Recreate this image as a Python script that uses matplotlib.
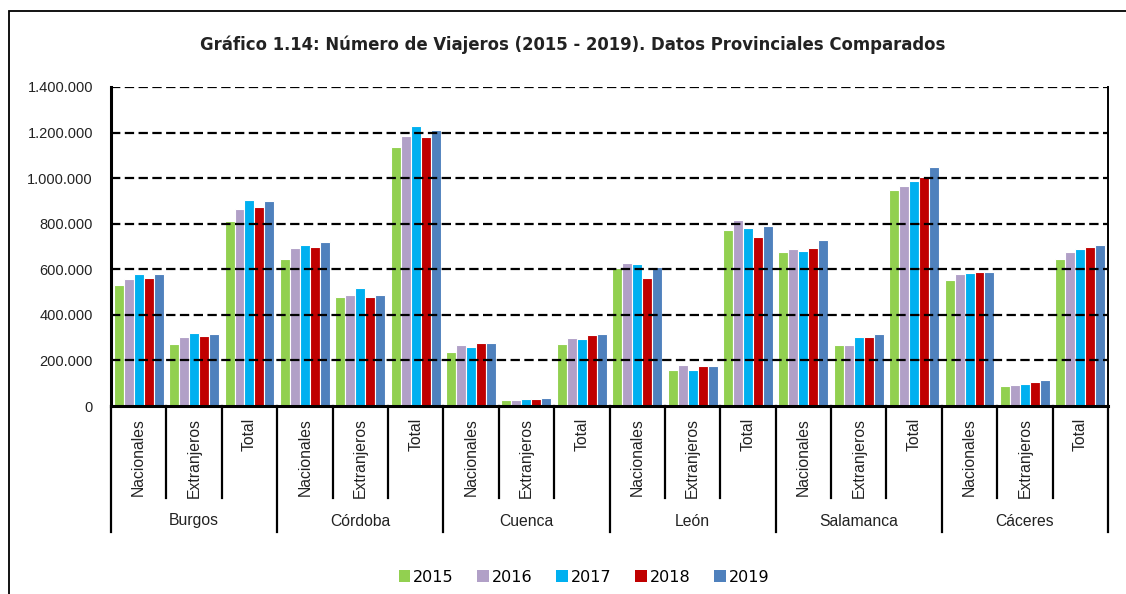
import numpy as np
import matplotlib
matplotlib.use('Agg')
import matplotlib.pyplot as plt
from matplotlib.patches import Rectangle, Patch
from matplotlib.ticker import FuncFormatter

# data
provincias = ['Burgos', 'Córdoba', 'Cuenca', 'León', 'Salamanca', 'Cáceres']
tipos = ['Nacionales', 'Extranjeros', 'Total']
years = ['2015', '2016', '2017', '2018', '2019']
colors = ['#92D050', '#B1A0C7', '#00B0F0', '#C00000', '#4F81BD']

# one list per year, 18 values: province x (Nacionales, Extranjeros, Total)
v2015 = [533000, 274000, 811000, 647000, 480000, 1135000, 239000, 25000, 271000,
         606000, 158000, 772000, 674000, 267000, 946000, 551000, 86000, 643000]
v2016 = [556000, 303000, 864000, 693000, 486000, 1186000, 267000, 26000, 297000,
         628000, 180000, 816000, 688000, 269000, 964000, 578000, 91000, 675000]
v2017 = [578000, 319000, 902000, 707000, 517000, 1230000, 258000, 29000, 293000,
         622000, 157000, 783000, 679000, 302000, 988000, 584000, 97000, 688000]
v2018 = [561000, 307000, 874000, 697000, 477000, 1180000, 275000, 31000, 312000,
         561000, 176000, 742000, 693000, 302000, 1003000, 589000, 105000, 699000]
v2019 = [578000, 318000, 899000, 718000, 488000, 1212000, 275000, 35000, 315000,
         609000, 176000, 789000, 728000, 316000, 1050000, 586000, 113000, 706000]
series = [v2015, v2016, v2017, v2018, v2019]

W, H = 1126, 594
fig = plt.figure(figsize=(W / 100, H / 100), dpi=100)

# outer chart frame
fig.patches.append(Rectangle((9 / W, -0.05), 1.2, (594 - 11) / H + 0.05,
                             transform=fig.transFigure, fill=False,
                             edgecolor='black', linewidth=1.3))

x0, x1, ytop, ybot = 111, 1108, 87, 406
ax = fig.add_axes([x0 / W, (H - ybot) / H, (x1 - x0) / W, (ybot - ytop) / H])

n = len(provincias) * len(tipos)
x = np.arange(n)
step = 0.18
for i, vals in enumerate(series):
    ax.bar(x + (i - 2) * step, vals, width=step, color=colors[i],
           edgecolor='white', linewidth=0.8, zorder=2)

ax.set_xlim(-0.5, n - 0.5)
ax.set_ylim(0, 1400000)
ax.set_yticks(np.arange(0, 1400001, 200000))
ax.yaxis.set_major_formatter(FuncFormatter(lambda v, p: '{:,.0f}'.format(v).replace(',', '.')))
ax.tick_params(axis='y', length=0, pad=13, labelsize=10.5, labelcolor='#222222')
for lab in ax.get_yticklabels():
    lab.set_fontfamily('Liberation Sans')
ax.set_xticks([])

for yv in range(200000, 1400001, 200000):
    ax.axhline(yv, color='black', lw=1.6, dashes=(4.2, 2.0), zorder=3)

for s in ['left', 'bottom']:
    ax.spines[s].set_linewidth(2.2)
ax.spines['right'].set_linewidth(1.4)
ax.spines['top'].set_visible(False)

# category axis: separators and labels
tr = ax.get_xaxis_transform()
for k in range(n + 1):
    yend = -(532 - ybot) / (ybot - ytop) if k % 3 == 0 else -(498 - ybot) / (ybot - ytop)
    ax.plot([k - 0.5, k - 0.5], [0, yend], color='black', lw=1.6,
            transform=tr, clip_on=False)

for k in range(n):
    ax.text(k, -(418 - ybot) / (ybot - ytop), tipos[k % 3], rotation=90,
            ha='center', va='top', fontsize=11.3, family='Liberation Sans',
            color='#222222', transform=tr)
for p, name in enumerate(provincias):
    ax.text(3 * p + 1, -(521 - ybot) / (ybot - ytop), name, ha='center',
            va='center', fontsize=11.3, family='Liberation Sans', color='#222222',
            transform=tr)

fig.text(573 / W, (H - 45) / H, 'Gráfico 1.14: Número de Viajeros (2015 - 2019). Datos Provinciales Comparados',
         ha='center', va='center', fontsize=11.9, fontweight='bold', family='DejaVu Sans',
         color='#222222')

handles = [Patch(facecolor=c, edgecolor='none') for c in colors]
fig.legend(handles, years, loc='center', bbox_to_anchor=(584 / W, (H - 577) / H),
           ncol=5, frameon=False, prop={'family': 'DejaVu Sans', 'size': 11.5},
           handlelength=0.7, handleheight=0.7, handletextpad=0.2, columnspacing=1.5)

fig.savefig('out.png', dpi=100)
